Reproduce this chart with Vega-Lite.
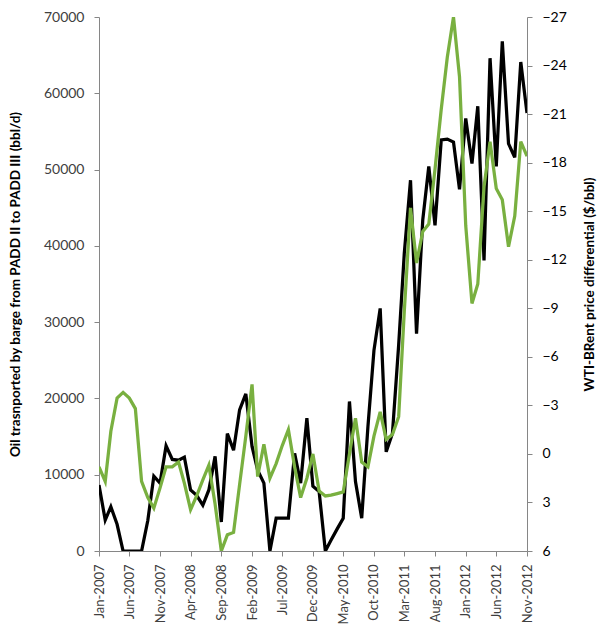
{
  "$schema": "https://vega.github.io/schema/vega-lite/v6.json",
  "width": 428,
  "height": 534,
  "autosize": {"type": "none"},
  "padding": {"left": 99, "top": 17, "right": 83, "bottom": 79},
  "background": "white",
  "config": {
    "view": {"stroke": null},
    "font": "Lato",
    "axis": {
      "grid": false,
      "domainColor": "#868686",
      "tickColor": "#868686",
      "tickSize": 5,
      "labelFont": "Lato",
      "labelFontSize": 14,
      "labelColor": "#404040",
      "titleFont": "Lato",
      "titleFontSize": 13.5,
      "titleFontWeight": "bold",
      "titleColor": "#000000"
    }
  },
  "data": {
    "values": [
      {"date": "2007-01-01", "barge": 8650, "diff": 0.8},
      {"date": "2007-02-01", "barge": 4060, "diff": 1.7},
      {"date": "2007-03-01", "barge": 5800, "diff": -1.4},
      {"date": "2007-04-01", "barge": 3500, "diff": -3.45},
      {"date": "2007-05-01", "barge": 0, "diff": -3.8},
      {"date": "2007-06-01", "barge": 0, "diff": -3.45},
      {"date": "2007-07-01", "barge": 0, "diff": -2.8},
      {"date": "2007-08-01", "barge": 0, "diff": 1.7},
      {"date": "2007-09-01", "barge": 4000, "diff": 2.7},
      {"date": "2007-10-01", "barge": 9800, "diff": 3.35},
      {"date": "2007-11-01", "barge": 8900, "diff": 2.1},
      {"date": "2007-12-01", "barge": 13800, "diff": 0.8},
      {"date": "2008-01-01", "barge": 12000, "diff": 0.8},
      {"date": "2008-02-01", "barge": 11900, "diff": 0.5},
      {"date": "2008-03-01", "barge": 12300, "diff": 1.8},
      {"date": "2008-04-01", "barge": 8000, "diff": 3.45},
      {"date": "2008-05-01", "barge": 7300, "diff": 2.6},
      {"date": "2008-06-01", "barge": 6000, "diff": 1.6},
      {"date": "2008-07-01", "barge": 8000, "diff": 0.7},
      {"date": "2008-08-01", "barge": 12400, "diff": 3.1},
      {"date": "2008-09-01", "barge": 3800, "diff": 6.0},
      {"date": "2008-10-01", "barge": 15400, "diff": 5.0},
      {"date": "2008-11-01", "barge": 13200, "diff": 4.85},
      {"date": "2008-12-01", "barge": 18500, "diff": 1.9},
      {"date": "2009-01-01", "barge": 20600, "diff": -1.1},
      {"date": "2009-02-01", "barge": 13700, "diff": -4.3},
      {"date": "2009-03-01", "barge": 10600, "diff": 1.4},
      {"date": "2009-04-01", "barge": 8900, "diff": -0.6},
      {"date": "2009-05-01", "barge": 0, "diff": 1.5},
      {"date": "2009-06-01", "barge": 4300, "diff": 0.6},
      {"date": "2009-07-01", "barge": 4300, "diff": -0.5},
      {"date": "2009-08-01", "barge": 4300, "diff": -1.5},
      {"date": "2009-09-01", "barge": 12800, "diff": 0.8},
      {"date": "2009-10-01", "barge": 8900, "diff": 2.7},
      {"date": "2009-11-01", "barge": 17400, "diff": 1.5},
      {"date": "2009-12-01", "barge": 8500, "diff": 0.0},
      {"date": "2010-01-01", "barge": 7800, "diff": 2.3},
      {"date": "2010-02-01", "barge": 0, "diff": 2.6},
      {"date": "2010-03-01", "barge": 1400, "diff": 2.55},
      {"date": "2010-04-01", "barge": 2900, "diff": 2.45},
      {"date": "2010-05-01", "barge": 4300, "diff": 2.35},
      {"date": "2010-06-01", "barge": 19600, "diff": 0.0},
      {"date": "2010-07-01", "barge": 9100, "diff": -2.2},
      {"date": "2010-08-01", "barge": 4300, "diff": 0.5},
      {"date": "2010-09-01", "barge": 16300, "diff": 0.8},
      {"date": "2010-10-01", "barge": 26300, "diff": -1.1},
      {"date": "2010-11-01", "barge": 31800, "diff": -2.6},
      {"date": "2010-12-01", "barge": 13000, "diff": -0.9},
      {"date": "2011-01-01", "barge": 15400, "diff": -1.2},
      {"date": "2011-02-01", "barge": 27000, "diff": -2.3},
      {"date": "2011-03-01", "barge": 39000, "diff": -8.8},
      {"date": "2011-04-01", "barge": 48600, "diff": -15.2},
      {"date": "2011-05-01", "barge": 28500, "diff": -11.8},
      {"date": "2011-06-01", "barge": 43400, "diff": -13.75},
      {"date": "2011-07-01", "barge": 50400, "diff": -14.2},
      {"date": "2011-08-01", "barge": 42700, "diff": -17.6},
      {"date": "2011-09-01", "barge": 53900, "diff": -21.3},
      {"date": "2011-10-01", "barge": 54000, "diff": -24.5},
      {"date": "2011-11-01", "barge": 53600, "diff": -27.0},
      {"date": "2011-12-01", "barge": 47400, "diff": -23.3},
      {"date": "2012-01-01", "barge": 56700, "diff": -14.1},
      {"date": "2012-02-01", "barge": 50800, "diff": -9.3},
      {"date": "2012-03-01", "barge": 58300, "diff": -10.5},
      {"date": "2012-04-01", "barge": 38100, "diff": -16.5},
      {"date": "2012-05-01", "barge": 64600, "diff": -19.3},
      {"date": "2012-06-01", "barge": 50400, "diff": -16.4},
      {"date": "2012-07-01", "barge": 66800, "diff": -15.7},
      {"date": "2012-08-01", "barge": 53400, "diff": -12.8},
      {"date": "2012-09-01", "barge": 51600, "diff": -14.7},
      {"date": "2012-10-01", "barge": 64100, "diff": -19.3},
      {"date": "2012-11-01", "barge": 57400, "diff": -18.4}
    ]
  },
  "encoding": {
    "x": {
      "field": "date",
      "type": "temporal",
      "scale": {
        "type": "utc",
        "domain": [
          {"year": 2007, "month": 1, "date": 1, "utc": true},
          {"year": 2012, "month": 11, "date": 1, "utc": true}
        ]
      },
      "axis": {
        "title": null,
        "labelExpr": "utcFormat(datum.value, '%b-%Y')",
        "labelAngle": 270,
        "labelAlign": "right",
        "labelBaseline": "middle",
        "labelPadding": 8,
        "labelFontSize": 13,
        "values": [
          {"year": 2007, "month": 1, "date": 1, "utc": true},
          {"year": 2007, "month": 6, "date": 1, "utc": true},
          {"year": 2007, "month": 11, "date": 1, "utc": true},
          {"year": 2008, "month": 4, "date": 1, "utc": true},
          {"year": 2008, "month": 9, "date": 1, "utc": true},
          {"year": 2009, "month": 2, "date": 1, "utc": true},
          {"year": 2009, "month": 7, "date": 1, "utc": true},
          {"year": 2009, "month": 12, "date": 1, "utc": true},
          {"year": 2010, "month": 5, "date": 1, "utc": true},
          {"year": 2010, "month": 10, "date": 1, "utc": true},
          {"year": 2011, "month": 3, "date": 1, "utc": true},
          {"year": 2011, "month": 8, "date": 1, "utc": true},
          {"year": 2012, "month": 1, "date": 1, "utc": true},
          {"year": 2012, "month": 6, "date": 1, "utc": true},
          {"year": 2012, "month": 11, "date": 1, "utc": true}
        ]
      }
    }
  },
  "layer": [
    {
      "mark": {"type": "line", "color": "#000000", "strokeWidth": 3.25, "strokeJoin": "miter", "clip": true},
      "encoding": {
        "y": {
          "field": "barge",
          "type": "quantitative",
          "scale": {"domain": [0, 70000], "nice": false, "zero": true},
          "axis": {
            "orient": "left",
            "title": "Oil trasnported by barge from PADD II to PADD III (bbl/d)",
            "values": [0, 10000, 20000, 30000, 40000, 50000, 60000, 70000],
            "format": "d",
            "labelPadding": 10,
            "titlePadding": 21
          }
        }
      }
    },
    {
      "mark": {"type": "line", "color": "#79b040", "strokeWidth": 3.25, "strokeJoin": "miter", "clip": true},
      "encoding": {
        "y": {
          "field": "diff",
          "type": "quantitative",
          "scale": {"domain": [-27, 6], "reverse": true, "nice": false, "zero": false},
          "axis": {
            "orient": "right",
            "title": "WTI-BRent price differential ($/bbl)",
            "titleAngle": 270,
            "values": [-27, -24, -21, -18, -15, -12, -9, -6, -3, 0, 3, 6],
            "format": "d",
            "labelColor": "#000000",
            "labelPadding": 10,
            "titlePadding": 30
          }
        }
      }
    }
  ],
  "resolve": {"scale": {"y": "independent"}}
}
